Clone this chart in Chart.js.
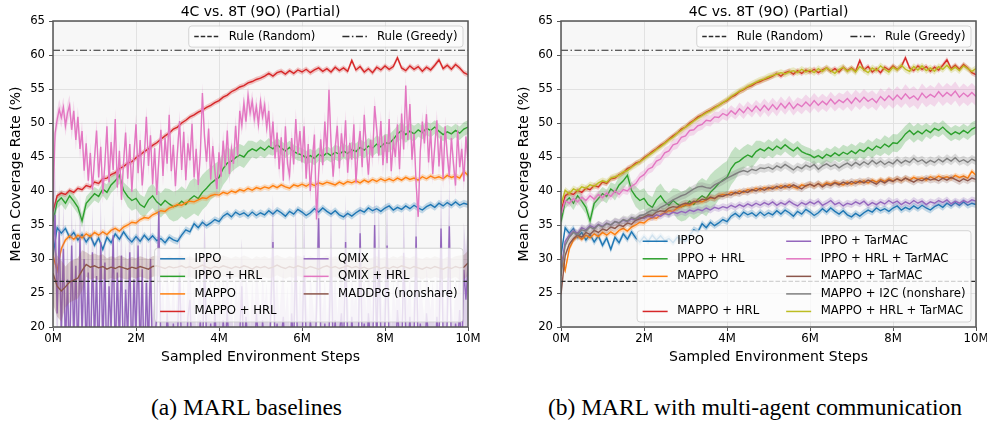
<!DOCTYPE html>
<html>
<head>
<meta charset="utf-8">
<title>Coverage rate curves</title>
<script src="https://cdn.jsdelivr.net/npm/chart.js@4.4.1/dist/chart.umd.min.js"></script>
<style>
  html, body { margin: 0; padding: 0; background: #fff; overflow: hidden; }
  #page { position: relative; width: 987px; height: 421px; overflow: hidden; }
  canvas { position: absolute; top: 0; }
  #left { left: 0; }
  #right { left: 508px; }
  .caption {
    position: absolute; top: 393px; line-height: 28px; text-align: center; white-space: nowrap;
    font-family: "Liberation Serif", "DejaVu Serif", serif; font-size: 23.5px; color: #000;
  }
</style>
</head>
<body>
<div id="page">
  <canvas id="left" width="490" height="380"></canvas>
  <canvas id="right" width="482" height="380"></canvas>
  <div class="caption" style="left:0; width:493px;">(a) MARL baselines</div>
  <div class="caption" style="left:508px; width:494px;">(b) MARL with multi-agent communication</div>
</div>
<script>
// axis ticks (x in millions of sampled steps)
const xTicks = [0, 2, 4, 6, 8, 10];
const yTicks = [20, 25, 30, 35, 40, 45, 50, 55, 60, 65];
const chartTitle = "4C vs. 8T (9O) (Partial)";

// rule baselines
const ruleRandom = 26.7;
const ruleGreedy = 60.7;

// mean coverage rate, one value every 0.1M steps (0M .. 10M)
const ippo = [
  30.5, 34.6, 33.8, 34.5, 33.2, 33.9, 32.8, 33.6, 32.5, 33.4,
  32.0, 33.1, 31.4, 33.2, 32.4, 33.7, 32.9, 34.0, 33.1, 32.5,
  33.3, 32.6, 33.5, 32.8, 33.4, 32.7, 33.0, 32.4, 33.2, 32.8,
  32.6, 33.5, 34.3, 34.0, 35.2, 34.6, 35.4, 34.9, 35.3, 35.8,
  35.5, 36.3, 36.7, 36.2, 36.9, 36.5, 36.8, 36.3, 36.9, 36.4,
  36.8, 36.5, 37.1, 36.6, 37.2, 36.8, 36.3, 37.0, 36.6, 37.3,
  36.9, 36.4, 36.8, 37.4, 36.9, 37.5, 37.0, 36.6, 37.1, 36.5,
  36.2, 36.7, 36.3, 36.8, 37.2, 36.9, 37.5, 37.1, 37.4, 37.0,
  37.5, 37.8, 37.2, 37.6, 37.3, 37.8, 37.4, 37.9, 37.5, 37.2,
  37.7, 38.0, 37.6, 38.2, 37.8, 38.3, 37.9, 38.4, 37.9, 38.2,
  38.0
];
const ippoHrl = [
  35.5, 38.4, 39.0, 38.2, 39.3, 38.5, 37.6, 35.6, 38.2, 38.9,
  39.6, 39.2, 40.3, 39.8, 40.9, 41.5, 42.3, 40.1, 39.2, 38.6,
  38.9, 38.0, 37.6, 38.7, 39.3, 38.4, 37.9, 38.6, 38.1, 37.7,
  37.9, 38.5, 38.0, 38.8, 39.3, 38.9, 39.8, 40.4, 41.1, 41.6,
  42.0, 43.3, 44.1, 44.4, 44.9, 45.3, 45.0, 45.8, 46.2, 45.9,
  46.4, 46.0, 46.6, 46.2, 46.8, 46.3, 45.9, 46.4, 45.8, 45.5,
  45.3, 44.9, 45.2, 44.8, 45.4, 45.1, 45.6, 45.2, 45.7, 45.4,
  45.9, 45.5, 46.1, 45.8, 46.4, 46.0, 46.6, 46.3, 46.9, 46.5,
  47.1, 47.0, 47.6, 48.4, 48.9, 48.3, 48.8, 48.4, 49.0, 48.6,
  49.2, 48.9, 49.4, 48.8, 48.3, 48.7, 48.4, 48.9, 48.5, 49.1,
  49.4
];
const mappo = [
  30.5, 28.3, 31.5, 32.8, 33.4, 32.9, 33.5, 33.1, 33.7, 33.3,
  33.9, 33.5, 34.0, 33.6, 34.2, 34.5, 34.1, 34.7, 35.0, 35.4,
  35.3, 35.8, 36.1, 36.0, 36.5, 36.8, 37.1, 37.0, 37.5, 37.7,
  38.0, 37.9, 38.3, 38.5, 38.4, 38.7, 39.0, 38.9, 39.3, 39.5,
  39.4, 39.8, 39.6, 40.0, 39.8, 40.2, 40.0, 40.4, 40.1, 40.5,
  40.3, 40.6, 40.4, 40.8, 40.5, 40.9, 40.6, 40.4, 40.9, 40.7,
  41.0, 40.7, 41.1, 40.8, 41.2, 41.0, 41.3, 41.1, 40.9, 41.3,
  41.0, 41.4, 41.2, 41.5, 41.2, 41.6, 41.3, 41.7, 41.4, 41.8,
  41.5, 41.8, 41.5, 41.9, 41.6, 42.0, 41.7, 41.9, 41.6, 42.1,
  41.8, 42.2, 41.9, 42.1, 41.8, 42.3, 42.0, 42.2, 41.9, 42.9,
  42.3
];
const mappoHrl = [
  37.0, 39.3, 39.7, 39.5, 40.1, 39.8, 40.4, 40.2, 40.8, 40.6,
  41.3, 41.1, 41.8, 41.9, 42.4, 42.7, 43.3, 43.6, 44.1, 44.3,
  44.9, 45.3, 45.8, 46.2, 46.7, 47.1, 47.6, 48.1, 48.5, 49.1,
  49.4, 50.0, 50.4, 50.9, 51.2, 51.6, 51.9, 52.3, 52.6, 53.0,
  53.3, 53.8, 54.1, 54.6, 54.9, 55.3, 55.5, 55.9, 56.1, 56.4,
  56.6, 56.9, 57.3, 56.9, 57.4, 57.6, 57.2, 57.7, 57.3, 57.8,
  57.5, 57.9, 57.4, 57.8, 58.1, 57.6, 58.0, 57.5, 58.2, 57.7,
  58.1, 57.6, 59.2, 57.8, 58.3, 57.5, 58.0, 57.4, 58.2, 57.8,
  58.4, 57.9, 58.3, 59.6, 58.1, 57.7, 58.4, 57.9, 58.3, 57.6,
  58.2, 57.8, 58.5, 59.3, 58.0, 58.5, 57.9, 58.6, 58.1, 57.4,
  57.1
];
// QMIX runs are logged twice as often: one value every 0.05M steps
const qmixHrl = [
  38.0, 48.5, 50.5, 52.0, 50.8, 52.3, 49.6, 51.5, 52.6, 49.0, 51.8, 47.5, 50.9, 46.2, 48.8, 43.0, 47.0, 41.5, 45.6, 40.2,
  44.8, 48.9, 42.0, 46.5, 39.6, 44.0, 49.5, 41.3, 47.2, 43.1, 50.6, 40.5, 45.9, 38.7, 44.2, 48.6, 41.8, 46.9, 39.9, 45.3,
  49.8, 42.6, 47.5, 40.8, 45.0, 50.9, 43.7, 48.2, 41.0, 46.3, 39.4, 44.6, 49.0, 42.2, 47.8, 44.0, 51.2, 42.9, 46.8, 40.7,
  45.9, 50.3, 43.1, 48.7, 41.6, 47.0, 44.5, 49.9, 42.0, 46.2, 40.9, 45.4, 54.4, 48.0, 44.3, 49.2, 41.7, 46.6, 43.0, 40.3,
  45.7, 42.1, 47.4, 43.6, 48.9, 42.5, 46.2, 44.0, 49.6, 45.1, 51.8, 49.7, 52.9, 50.2, 54.0, 51.5, 53.2, 50.6, 52.4, 49.8,
  53.1, 50.9, 52.6, 49.3, 51.8, 46.5, 50.2, 44.8, 48.6, 43.2, 47.9, 41.5, 49.5, 44.0, 42.3, 47.8, 43.9, 50.6, 45.4, 48.8,
  44.2, 49.5, 41.8, 46.9, 40.0, 44.6, 48.3, 35.8, 42.5, 47.6, 43.8, 50.2, 45.5, 54.9, 47.0, 42.1, 46.4, 49.6, 43.3, 48.5,
  45.0, 50.4, 42.7, 47.1, 44.6, 49.8, 41.2, 46.0, 48.8, 43.5, 51.2, 46.3, 42.4, 47.5, 44.9, 52.5, 49.1, 45.2, 50.3, 43.8,
  48.2, 44.1, 50.6, 42.9, 47.3, 45.0, 49.8, 43.2, 51.4, 46.1, 55.5, 47.5, 52.8, 44.6, 48.4, 41.0, 36.2, 45.8, 50.2, 47.0,
  51.3, 44.2, 49.0, 42.5, 46.7, 50.4, 43.6, 48.1, 41.8, 49.5, 45.3, 42.2, 47.8, 44.0, 40.8, 48.9, 43.5, 46.2, 41.4, 48.0,
  44.5
];
const qmix = [
  31.0, 36.5, 22.0, 34.0, 19.0, 31.5, 17.0, 27.0, 14.0, 32.0, 18.0, 29.0, 15.0, 33.0, 19.0, 30.0, 16.0, 28.0, 13.0, 31.0,
  18.0, 27.5, 14.5, 32.5, 17.0, 29.5, 12.5, 26.0, 19.5, 33.5, 15.0, 28.0, 17.5, 30.5, 13.0, 25.5, 18.5, 31.0, 14.0, 27.0,
  19.0, 32.0, 15.5, 28.5, 12.0, 26.5, 17.0, 30.0, 14.0, 18.0, 21.5, 37.0, 16.0, 19.5, 13.5, 22.0, 17.5, 15.0, 20.5, 14.5,
  18.5, 28.0, 16.0, 20.0, 13.0, 21.5, 24.0, 15.5, 19.0, 12.5, 17.0, 21.0, 14.0, 30.5, 18.0, 15.0, 20.5, 13.5, 22.5, 16.5,
  19.5, 14.0, 21.0, 17.0, 22.5, 15.5, 18.0, 12.0, 20.0, 16.5, 19.0, 26.0, 14.5, 21.5, 17.5, 13.0, 20.0, 15.0, 22.0, 18.5,
  14.0, 21.0, 16.5, 19.5, 13.0, 23.0, 32.5, 17.0, 20.5, 14.5, 18.5, 21.5, 15.0, 19.0, 12.5, 22.0, 17.0, 31.5, 14.0, 20.0,
  16.0, 30.5, 18.0, 13.5, 21.0, 17.5, 14.0, 22.5, 36.0, 19.5, 15.0, 20.5, 13.0, 18.5, 31.5, 16.5, 21.0, 14.5, 19.0, 22.0,
  15.5, 32.5, 18.0, 13.0, 21.5, 16.0, 19.5, 14.0, 33.8, 17.5, 20.5, 15.0, 22.0, 18.0, 13.5, 35.0, 16.5, 31.4, 19.0, 14.5,
  21.0, 32.0, 17.0, 13.0, 20.0, 15.5, 22.5, 18.0, 14.0, 30.9, 19.5, 16.0, 21.5, 13.5, 18.5, 33.3, 15.0, 20.5, 17.0, 14.0,
  22.0, 18.5, 15.5, 20.0, 13.0, 21.5, 17.0, 34.5, 19.0, 14.5, 21.0, 34.8, 16.5, 13.5, 20.5, 17.5, 22.5, 15.0, 28.4, 24.0,
  29.0
];
const maddpg = [
  27.9, 26.0, 25.3, 25.9, 26.6, 26.9, 27.2, 28.3, 29.2, 28.8,
  29.0, 28.7, 28.9, 28.5, 28.8, 28.6, 28.9, 28.7, 28.5, 28.8,
  28.6, 28.9, 28.7, 28.5, 28.9, 29.0, 28.8, 28.6, 28.9, 28.7,
  28.8, 29.0, 28.7, 28.9, 28.6, 28.8, 29.1, 28.8, 28.6, 28.9,
  28.7, 29.0, 28.8, 28.6, 28.9, 28.7, 29.0, 28.8, 28.5, 28.9,
  28.7, 28.9, 28.6, 28.8, 29.1, 28.8, 28.6, 28.9, 28.7, 29.0,
  28.8, 28.6, 28.9, 28.7, 28.5, 28.8, 29.0, 28.7, 28.9, 28.6,
  28.8, 29.0, 28.7, 28.9, 28.6, 28.8, 28.5, 28.7, 28.9, 28.6,
  28.8, 28.6, 28.9, 28.7, 29.0, 28.8, 28.6, 28.9, 28.7, 28.5,
  28.8, 28.6, 28.9, 28.7, 28.5, 28.8, 28.6, 28.9, 28.7, 28.8,
  29.4
];
const ippoTarmac = [
  28.5, 32.6, 33.5, 34.1, 33.8, 34.6, 34.3, 34.9, 34.6, 35.1,
  34.8, 35.3, 35.0, 35.5, 35.3, 35.7, 35.5, 35.9, 35.7, 36.1,
  36.0, 36.3, 36.1, 36.5, 36.3, 36.7, 36.5, 36.9, 36.7, 37.0,
  36.8, 37.2, 37.0, 37.3, 37.1, 37.5, 37.2, 37.6, 37.4, 37.7,
  37.5, 37.9, 37.6, 38.0, 37.7, 38.1, 37.8, 38.2, 37.9, 38.3,
  38.0, 38.4, 37.9, 38.3, 38.0, 38.5, 38.1, 37.8, 38.3, 38.0,
  38.4, 38.1, 38.5, 37.9, 38.2, 38.6, 38.0, 38.3, 37.8, 38.2,
  38.0, 38.4, 38.1, 38.5, 37.9, 38.3, 38.0, 38.4, 38.1, 38.6,
  38.2, 38.5, 38.0, 38.4, 38.1, 38.6, 38.2, 38.5, 38.0, 38.4,
  38.2, 38.6, 38.3, 38.7, 38.1, 38.5, 38.2, 38.6, 38.3, 38.7,
  38.5
];
const ippoHrlTarmac = [
  36.5, 38.6, 38.2, 38.9, 38.4, 39.1, 38.6, 39.3, 38.8, 39.5,
  39.0, 39.7, 39.2, 40.0, 39.5, 40.2, 40.0, 40.7, 41.1, 42.0,
  42.4, 43.2, 43.5, 44.4, 44.7, 45.6, 45.9, 46.8, 47.0, 47.9,
  48.1, 48.9, 49.0, 49.6, 49.8, 50.4, 50.3, 50.9, 50.8, 51.4,
  51.1, 51.8, 51.3, 52.1, 51.5, 52.3, 51.7, 52.5, 51.8, 52.6,
  51.9, 52.7, 52.0, 52.9, 52.2, 53.0, 52.1, 52.8, 52.4, 53.1,
  52.5, 53.3, 52.6, 53.2, 52.7, 53.5, 52.8, 53.4, 53.0, 53.6,
  52.9, 53.7, 53.1, 53.8, 53.2, 53.6, 53.0, 53.9, 53.3, 54.0,
  53.4, 54.1, 53.5, 54.3, 53.6, 54.0, 53.4, 54.4, 53.7, 54.2,
  53.8, 54.6, 53.9, 54.5, 54.0, 54.7, 53.8, 54.4, 53.9, 54.5,
  53.9
];
const mappoTarmac = [
  24.8, 30.5, 32.2, 33.0, 33.5, 33.2, 33.9, 33.6, 34.2, 33.9,
  34.4, 34.2, 34.7, 34.5, 35.0, 34.8, 35.3, 35.1, 35.7, 35.9,
  36.2, 36.5, 36.4, 36.9, 37.1, 37.0, 37.5, 37.7, 37.6, 38.0,
  38.2, 38.1, 38.5, 38.4, 38.8, 38.7, 39.1, 38.9, 39.3, 39.2,
  39.5, 39.4, 39.8, 39.6, 40.0, 39.8, 40.2, 40.0, 40.4, 40.1,
  40.5, 40.3, 40.7, 40.4, 40.8, 40.5, 40.9, 40.6, 40.3, 40.8,
  41.0, 40.7, 41.1, 40.6, 41.0, 40.8, 41.2, 40.9, 41.3, 41.0,
  41.4, 41.1, 41.5, 41.2, 41.6, 41.3, 41.0, 41.5, 41.2, 41.6,
  41.4, 41.8, 41.5, 41.9, 41.6, 41.3, 41.7, 41.5, 41.9, 41.6,
  41.8, 41.5, 41.9, 41.6, 42.0, 41.7, 41.4, 41.8, 41.5, 41.9,
  41.7
];
const mappoI2c = [
  27.5, 32.0, 33.2, 33.9, 33.6, 34.3, 34.1, 34.7, 34.4, 35.0,
  34.7, 35.2, 35.0, 35.5, 35.3, 35.8, 35.6, 36.1, 35.9, 36.4,
  36.5, 36.9, 37.2, 37.1, 37.6, 37.9, 38.3, 38.7, 39.0, 39.3,
  39.5, 39.9, 40.3, 40.6, 40.7, 40.5, 40.4, 40.9, 41.2, 41.5,
  41.9, 42.2, 42.5, 42.8, 43.0, 42.8, 43.2, 43.0, 43.4, 43.3,
  43.5, 43.2, 43.7, 43.4, 43.9, 43.5, 43.1, 43.6, 43.3, 43.8,
  43.5, 43.9, 43.2, 43.7, 44.0, 43.6, 43.9, 43.4, 43.8, 44.1,
  43.7, 44.2, 43.8, 44.3, 43.9, 44.5, 44.0, 44.4, 43.9, 44.3,
  44.0, 44.6, 44.1, 44.5, 44.2, 44.8, 44.3, 44.6, 44.1, 44.5,
  44.2, 44.7, 44.3, 44.8, 44.4, 44.9, 44.3, 44.6, 44.2, 44.7,
  44.4
];
const mappoHrlTarmac = [
  38.0, 40.1, 39.6, 40.3, 40.0, 40.6, 40.4, 40.9, 40.7, 41.2,
  41.5, 41.3, 41.9, 42.1, 42.3, 42.8, 43.0, 43.5, 43.9, 44.3,
  44.7, 45.2, 45.6, 46.1, 46.5, 47.0, 47.5, 47.9, 48.5, 48.9,
  49.4, 49.8, 50.3, 50.7, 51.1, 51.5, 51.8, 52.2, 52.6, 53.0,
  53.4, 53.9, 54.3, 54.7, 55.0, 55.4, 55.7, 56.0, 56.3, 56.5,
  56.8, 57.0, 57.2, 57.4, 57.2, 57.5, 57.7, 57.4, 57.9, 57.5,
  57.8, 57.4, 58.0, 57.6, 58.1, 57.7, 57.3, 57.9, 58.2, 57.6,
  58.0, 57.5, 58.3, 57.8, 57.4, 58.1, 57.7, 58.4, 57.9, 57.5,
  58.2, 57.8, 58.5, 57.9, 57.6, 58.3, 57.8, 58.4, 57.7, 58.1,
  57.6, 58.3, 57.9, 58.5, 57.8, 58.2, 57.7, 58.4, 58.0, 57.6,
  58.0
];

// spread across seeds (half width of the shaded band); arrays hold one value per 0.5M
const ippoStd = 0.5;
const ippoHrlStd = [1.0, 1.0, 1.0, 1.2, 1.5, 1.8, 2.2, 2.6, 2.4, 1.6, 1.2, 1.0, 1.0, 1.0, 1.1, 1.2, 1.3, 1.2, 1.0, 1.0, 1.0];
const mappoStd = 0.4;
const mappoHrlStd = 0.4;
const qmixStd = 7;
const qmixHrlStd = 1.5;
const maddpgStd = [4.5, 3.0, 1.8, 1.6, 1.5, 1.5, 1.5, 1.5, 1.5, 1.5, 1.5, 1.5, 1.5, 1.5, 1.5, 1.5, 1.5, 1.5, 1.5, 1.5, 1.8];
const ippoTarmacStd = 0.5;
const ippoHrlTarmacStd = [0.6, 0.6, 0.6, 0.6, 0.7, 0.8, 0.8, 0.8, 0.8, 0.9, 1.0, 1.0, 1.1, 1.1, 1.2, 1.2, 1.3, 1.4, 1.4, 1.4, 1.4];
const mappoTarmacStd = 0.5;
const mappoI2cStd = 0.6;
const mappoHrlTarmacStd = 0.5;

const C = {
  blue: "#1f77b4", orange: "#ff7f0e", green: "#2ca02c", red: "#d62728", purple: "#9467bd",
  brown: "#8c564b", pink: "#e377c2", gray: "#7f7f7f", olive: "#bcbd22", rule: "#2b2b2b"
};
const randomDash = [4.5, 2];
const greedyDash = [7, 2.5, 1.5, 2.5];

Chart.defaults.font.family = "'DejaVu Sans', sans-serif";
Chart.defaults.color = "#000";

function rgba(hex, a) {
  const n = parseInt(hex.slice(1), 16);
  return `rgba(${(n >> 16) & 255}, ${(n >> 8) & 255}, ${n & 255}, ${a})`;
}

// line + shaded band for one algorithm
function seriesSets(s, order) {
  const n = s.values.length;
  const xAt = (i) => (i * 10) / (n - 1);
  const w = (i) => typeof s.std === "number" ? s.std : s.std[Math.min(s.std.length - 1, Math.round(xAt(i) * 2))];
  const common = { pointRadius: 0, tension: 0, clip: 0 };
  return [
    { ...common, data: s.values.map((v, i) => ({ x: xAt(i), y: v + w(i) })), borderWidth: 0, borderColor: "transparent",
      fill: "+1", backgroundColor: rgba(s.color, 0.25), order: order + 2 },
    { ...common, data: s.values.map((v, i) => ({ x: xAt(i), y: v - w(i) })), borderWidth: 0, borderColor: "transparent",
      fill: false, order: order + 1 },
    { ...common, label: s.label, data: s.values.map((v, i) => ({ x: xAt(i), y: v })), borderColor: s.color,
      borderWidth: 1.4, fill: false, order: order }
  ];
}

function ruleSet(value, dash) {
  return { data: [{ x: 0, y: value }, { x: 10, y: value }], borderColor: C.rule, borderWidth: 1.2,
    borderDash: dash, pointRadius: 0, fill: false, order: 0, clip: 0 };
}

// matplotlib-like legend box inside the axes
function drawLegend(ctx, a, spec) {
  const fs = 11.7, handleLen = 25, textPad = 9.5, colGap = 27, padX = 5.5, padY = 4.7, rowGap = 5.85, axPad = 5;
  ctx.save();
  ctx.font = fs + "px 'DejaVu Sans'";
  const rows = Math.max(...spec.cols.map(c => c.length));
  const colW = spec.cols.map(c => Math.max(...c.map(it => it ? ctx.measureText(it.label).width : 0)) + handleLen + textPad);
  const w = colW.reduce((p, q) => p + q, 0) + colGap * (spec.cols.length - 1) + 2 * padX;
  const h = rows * fs + (rows - 1) * rowGap + 2 * padY;
  const x0 = a.right - axPad - w;
  const y0 = spec.loc === "upper right" ? a.top + axPad : a.bottom - axPad - h;
  ctx.beginPath();
  ctx.roundRect(x0, y0, w, h, 3);
  ctx.fillStyle = "rgba(252, 252, 252, 0.8)";
  ctx.fill();
  ctx.strokeStyle = "rgba(204, 204, 204, 0.8)";
  ctx.lineWidth = 1;
  ctx.stroke();
  let cx = x0 + padX;
  spec.cols.forEach((col, ci) => {
    col.forEach((it, ri) => {
      if (!it) return;
      const cy = y0 + padY + ri * (fs + rowGap) + fs / 2;
      ctx.beginPath();
      ctx.setLineDash(it.dash || []);
      ctx.strokeStyle = it.color;
      ctx.lineWidth = 1.5;
      ctx.moveTo(cx, cy);
      ctx.lineTo(cx + handleLen, cy);
      ctx.stroke();
      ctx.setLineDash([]);
      ctx.fillStyle = "#000";
      ctx.textAlign = "left";
      ctx.textBaseline = "middle";
      ctx.fillText(it.label, cx + handleLen + textPad, cy);
    });
    cx += colW[ci] + colGap;
  });
  ctx.restore();
}

function paperPlugin(legends) {
  return {
    id: "paperStyle",
    beforeDraw(chart) {
      const { ctx, chartArea: a } = chart;
      ctx.save();
      ctx.fillStyle = "#f7f7f7";
      ctx.fillRect(a.left, a.top, a.right - a.left, a.bottom - a.top);
      ctx.restore();
    },
    afterDatasetsDraw(chart) {
      const { ctx, chartArea: a } = chart;
      ctx.save();
      ctx.strokeStyle = "#555";
      ctx.lineWidth = 1.5;
      ctx.strokeRect(a.left, a.top, a.right - a.left, a.bottom - a.top);
      ctx.restore();
    },
    afterDraw(chart) {
      const { ctx, chartArea: a } = chart;
      ctx.save();
      ctx.font = "14px 'DejaVu Sans'";
      ctx.fillStyle = "#000";
      ctx.textAlign = "center";
      ctx.textBaseline = "alphabetic";
      ctx.fillText(chartTitle, (a.left + a.right) / 2, 16);
      ctx.restore();
      legends.forEach(spec => drawLegend(ctx, a, spec));
    }
  };
}

function makeChart(id, series, bottomCols, padRight) {
  const datasets = [];
  series.forEach((s, i) => datasets.push(...seriesSets(s, (series.length - i) * 3 + 10)));
  datasets.push(ruleSet(ruleRandom, randomDash), ruleSet(ruleGreedy, greedyDash));

  const ruleLegend = {
    loc: "upper right",
    cols: [[{ label: "Rule (Random)", color: C.rule, dash: randomDash }], [{ label: "Rule (Greedy)", color: C.rule, dash: greedyDash }]]
  };
  const byLabel = (label) => {
    const s = series.find(t => t.label === label);
    return { label: s.label, color: s.color };
  };
  const algoLegend = { loc: "lower right", cols: bottomCols.map(col => col.map(l => l ? byLabel(l) : null)) };

  return new Chart(document.getElementById(id), {
    type: "line",
    data: { datasets },
    options: {
      responsive: false,
      animation: false,
      events: [],
      layout: { padding: { top: 21, right: padRight, bottom: 13, left: 0 } },
      plugins: { legend: { display: false }, tooltip: { enabled: false } },
      scales: {
        x: {
          type: "linear", min: 0, max: 10,
          afterBuildTicks: (s) => { s.ticks = xTicks.map(v => ({ value: v })); },
          afterFit: (s) => { s.height = 40; },
          ticks: { font: { size: 11.7 }, color: "#000", padding: 1, maxRotation: 0, callback: (v) => v + "M" },
          grid: { color: "#e2e2e2", tickColor: "#555", tickLength: 4, lineWidth: 1 },
          border: { display: false },
          title: { display: true, text: "Sampled Environment Steps", font: { size: 14 }, color: "#000", padding: { top: 0, bottom: 1 } }
        },
        y: {
          type: "linear", min: 20, max: 65,
          afterBuildTicks: (s) => { s.ticks = yTicks.map(v => ({ value: v })); },
          afterFit: (s) => { s.width = 53; },
          ticks: { font: { size: 11.7 }, color: "#000", padding: 4 },
          grid: { color: "#e2e2e2", tickColor: "#555", tickLength: 4, lineWidth: 1 },
          border: { display: false },
          title: { display: true, text: "Mean Coverage Rate (%)", font: { size: 14 }, color: "#000", padding: { top: 8, bottom: 0 } }
        }
      }
    },
    plugins: [paperPlugin([ruleLegend, algoLegend])]
  });
}

// (a) MARL baselines
makeChart("left", [
  { label: "IPPO", color: C.blue, values: ippo, std: ippoStd },
  { label: "IPPO + HRL", color: C.green, values: ippoHrl, std: ippoHrlStd },
  { label: "MAPPO", color: C.orange, values: mappo, std: mappoStd },
  { label: "MAPPO + HRL", color: C.red, values: mappoHrl, std: mappoHrlStd },
  { label: "QMIX", color: C.purple, values: qmix, std: qmixStd },
  { label: "QMIX + HRL", color: C.pink, values: qmixHrl, std: qmixHrlStd },
  { label: "MADDPG (nonshare)", color: C.brown, values: maddpg, std: maddpgStd }
], [
  ["IPPO", "IPPO + HRL", "MAPPO", "MAPPO + HRL"],
  ["QMIX", "QMIX + HRL", "MADDPG (nonshare)"]
], 22);

// (b) MARL with multi-agent communication
makeChart("right", [
  { label: "IPPO", color: C.blue, values: ippo, std: ippoStd },
  { label: "IPPO + HRL", color: C.green, values: ippoHrl, std: ippoHrlStd },
  { label: "MAPPO", color: C.orange, values: mappo, std: mappoStd },
  { label: "MAPPO + HRL", color: C.red, values: mappoHrl, std: mappoHrlStd },
  { label: "IPPO + TarMAC", color: C.purple, values: ippoTarmac, std: ippoTarmacStd },
  { label: "IPPO + HRL + TarMAC", color: C.pink, values: ippoHrlTarmac, std: ippoHrlTarmacStd },
  { label: "MAPPO + TarMAC", color: C.brown, values: mappoTarmac, std: mappoTarmacStd },
  { label: "MAPPO + I2C (nonshare)", color: C.gray, values: mappoI2c, std: mappoI2cStd },
  { label: "MAPPO + HRL + TarMAC", color: C.olive, values: mappoHrlTarmac, std: mappoHrlTarmacStd }
], [
  ["IPPO", "IPPO + HRL", "MAPPO", null, "MAPPO + HRL"],
  ["IPPO + TarMAC", "IPPO + HRL + TarMAC", "MAPPO + TarMAC", "MAPPO + I2C (nonshare)", "MAPPO + HRL + TarMAC"]
], 14);
</script>
</body>
</html>
